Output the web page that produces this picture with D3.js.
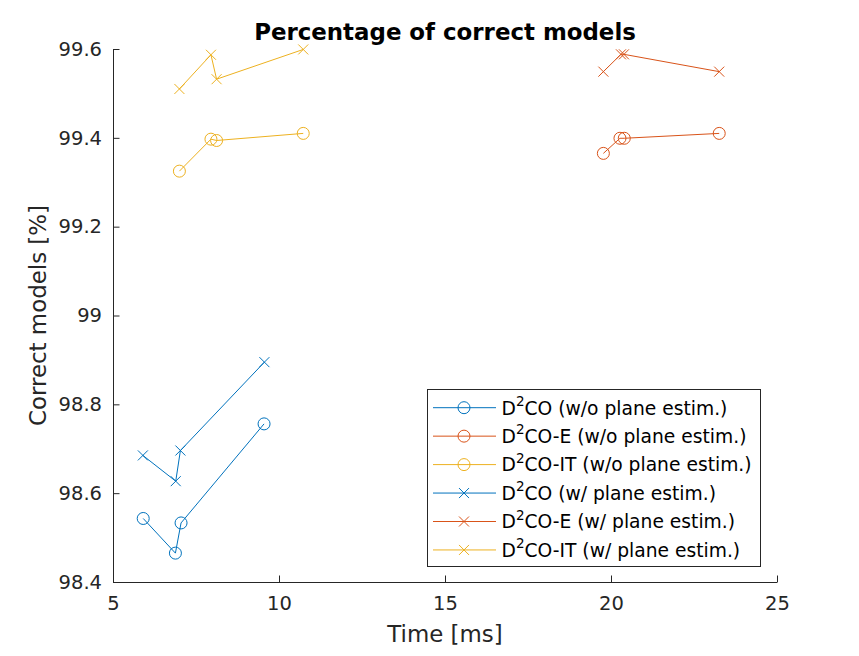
<!DOCTYPE html>
<html>
<head>
<meta charset="utf-8">
<script src="https://cdn.jsdelivr.net/npm/d3@7"></script>
<style>
  body { margin: 0; background: #fff; }
  svg { display: block; font-family: "DejaVu Sans", sans-serif; }
</style>
</head>
<body>
<div id="chart"></div>
<script>
// values
const xTicks = [5, 10, 15, 20, 25];
const yTicks = [98.4, 98.6, 98.8, 99, 99.2, 99.4, 99.6];

const d2coTimeNoPlane = [5.91, 6.88, 7.05, 9.55];
const d2coCorrectNoPlane = [98.543, 98.465, 98.533, 98.756];
const d2coETimeNoPlane = [19.77, 20.27, 20.40, 23.26];
const d2coECorrectNoPlane = [99.365, 99.399, 99.399, 99.41];
const d2coITTimeNoPlane = [7.0, 7.95, 8.12, 10.73];
const d2coITCorrectNoPlane = [99.325, 99.397, 99.394, 99.41];

const d2coTimePlane = [5.9, 6.89, 7.03, 9.56];
const d2coCorrectPlane = [98.685, 98.627, 98.696, 98.895];
const d2coETimePlane = [19.77, 20.3, 20.39, 23.26];
const d2coECorrectPlane = [99.549, 99.588, 99.588, 99.549];
const d2coITTimePlane = [7.0, 7.95, 8.12, 10.73];
const d2coITCorrectPlane = [99.51, 99.587, 99.532, 99.599];

const legendLabels = [
  "D^2CO (w/o plane estim.)",
  "D^2CO-E (w/o plane estim.)",
  "D^2CO-IT (w/o plane estim.)",
  "D^2CO (w/ plane estim.)",
  "D^2CO-E (w/ plane estim.)",
  "D^2CO-IT (w/ plane estim.)",
];

const blue = "#0072bd";
const red = "#d95319";
const yellow = "#edb120";

const series = [
  { time: d2coTimeNoPlane, correct: d2coCorrectNoPlane, color: blue, marker: "o" },
  { time: d2coETimeNoPlane, correct: d2coECorrectNoPlane, color: red, marker: "o" },
  { time: d2coITTimeNoPlane, correct: d2coITCorrectNoPlane, color: yellow, marker: "o" },
  { time: d2coTimePlane, correct: d2coCorrectPlane, color: blue, marker: "x" },
  { time: d2coETimePlane, correct: d2coECorrectPlane, color: red, marker: "x" },
  { time: d2coITTimePlane, correct: d2coITCorrectPlane, color: yellow, marker: "x" },
];

const width = 859;
const height = 656;
const margin = { top: 49, right: 82, bottom: 74, left: 113 };
const axisColor = "#262626";

const svg = d3
  .select("#chart")
  .append("svg")
  .attr("width", width)
  .attr("height", height);

svg.append("rect").attr("width", width).attr("height", height).attr("fill", "#fff");

const xScale = d3.scaleLinear().domain([5, 25]).range([margin.left, width - margin.right]);
const yScale = d3.scaleLinear().domain([98.4, 99.6]).range([height - margin.bottom, margin.top]);

const xAxis = d3.axisBottom(xScale).tickValues(xTicks).tickSizeInner(-6.5).tickSizeOuter(0).tickPadding(14).tickFormat(d3.format("d"));
const yAxis = d3.axisLeft(yScale).tickValues(yTicks).tickSizeInner(-6.5).tickSizeOuter(0).tickPadding(11).tickFormat((v) => String(+v.toFixed(1)));

const gx = svg
  .append("g")
  .attr("transform", `translate(0, ${height - margin.bottom})`)
  .call(xAxis);

const gy = svg
  .append("g")
  .attr("transform", `translate(${margin.left}, 0)`)
  .call(yAxis);

[gx, gy].forEach((g) => {
  g.select(".domain").attr("stroke", axisColor).attr("stroke-width", 1);
  g.selectAll(".tick line").attr("stroke", axisColor);
  g.selectAll(".tick text")
    .attr("fill", axisColor)
    .attr("font-size", 19.5)
    .attr("font-family", "DejaVu Sans");
});

// lines and markers
function drawMarker(g, x, y, type, color) {
  if (type === "o") {
    g.append("circle")
      .attr("cx", x)
      .attr("cy", y)
      .attr("r", 6)
      .attr("fill", "none")
      .attr("stroke", color)
      .attr("stroke-width", 1);
  } else {
    const s = 5;
    g.append("path")
      .attr("d", `M${x - s},${y - s}L${x + s},${y + s}M${x - s},${y + s}L${x + s},${y - s}`)
      .attr("fill", "none")
      .attr("stroke", color)
      .attr("stroke-width", 1);
  }
}

const line = d3
  .line()
  .x((d) => xScale(d[0]))
  .y((d) => yScale(d[1]));

series.forEach((s) => {
  const pts = s.time.map((t, i) => [t, s.correct[i]]);
  const g = svg.append("g");
  g.append("path")
    .datum(pts)
    .attr("d", line)
    .attr("fill", "none")
    .attr("stroke", s.color)
    .attr("stroke-width", 1);
  pts.forEach((p) => drawMarker(g, xScale(p[0]), yScale(p[1]), s.marker, s.color));
});

// title and axis labels
svg
  .append("text")
  .attr("x", (margin.left + width - margin.right) / 2)
  .attr("y", 39.5)
  .attr("text-anchor", "middle")
  .attr("font-size", 22.9)
  .attr("font-weight", "bold")
  .attr("fill", "#000")
  .text("Percentage of correct models");

svg
  .append("text")
  .attr("x", (margin.left + width - margin.right) / 2)
  .attr("y", 641.5)
  .attr("text-anchor", "middle")
  .attr("font-size", 22.9)
  .attr("fill", axisColor)
  .text("Time [ms]");

svg
  .append("text")
  .attr("transform", `translate(45.5, ${(margin.top + height - margin.bottom) / 2}) rotate(-90)`)
  .attr("text-anchor", "middle")
  .attr("font-size", 22.9)
  .attr("fill", axisColor)
  .text("Correct models [%]");

// legend
const legend = svg.append("g");
legend
  .append("rect")
  .attr("x", 427.5)
  .attr("y", 389.5)
  .attr("width", 333)
  .attr("height", 177)
  .attr("fill", "#fff")
  .attr("stroke", axisColor)
  .attr("stroke-width", 1);

series.forEach((s, i) => {
  const cy = 407.7 + i * 28.45;
  legend
    .append("line")
    .attr("x1", 433)
    .attr("x2", 496)
    .attr("y1", cy)
    .attr("y2", cy)
    .attr("stroke", s.color)
    .attr("stroke-width", 1);
  drawMarker(legend, 464, cy, s.marker, s.color);

  const [base, rest] = legendLabels[i].split("^");
  const text = legend
    .append("text")
    .attr("x", 501.5)
    .attr("y", cy + 6.8)
    .attr("font-size", 18.7)
    .attr("fill", "#000");
  text.append("tspan").text(base);
  text.append("tspan").attr("font-size", 13.5).attr("dy", -8.5).text(rest[0]);
  text.append("tspan").attr("dy", 8.5).text(rest.slice(1));
});
</script>
</body>
</html>
